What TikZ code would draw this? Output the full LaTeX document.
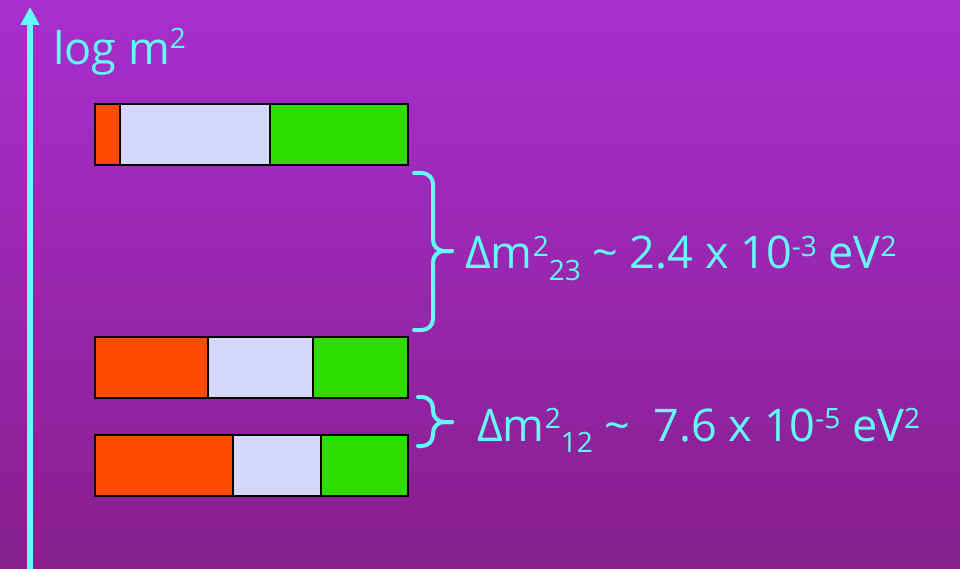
\documentclass[tikz,border=0pt]{standalone}
\usepackage{fontspec}
\setmainfont{Open Sans}
\usetikzlibrary{arrows.meta}
\definecolor{bgtop}{RGB}{169,46,207}
\definecolor{bgbot}{RGB}{135,31,141}
\definecolor{cyantext}{RGB}{100,250,250}
\definecolor{barorange}{RGB}{255,74,0}
\definecolor{barlav}{RGB}{213,216,252}
\definecolor{bargreen}{RGB}{46,221,0}
\newcommand\mysup[2]{\raisebox{#2}{\fontsize{28}{28}\selectfont #1}}
\newcommand\mysub[2]{\raisebox{-#2}{\fontsize{28}{28}\selectfont #1}}
\begin{document}
\begin{tikzpicture}[x=1pt,y=-1pt,
  seg/.style={draw=black, line width=2.5pt, minimum height=61pt, inner sep=0pt, outer sep=0pt, anchor=north west},
  lab/.style={text=cyantext, inner sep=0pt, anchor=base west, font=\fontsize{45}{45}\selectfont},
  bracestyle/.style={draw=cyantext, line width=4pt, rounded corners=11pt, line cap=round}]
\shade[top color=bgtop, bottom color=bgbot] (0,0) rectangle (960,569);
\useasboundingbox (0,0) rectangle (960,569);
% axis
\coordinate (axb) at (30,569);
\coordinate (axt) at (30,7);
\draw[draw=cyantext, line width=6pt, -{Triangle[width=18pt,length=18pt]}, color=cyantext] (axb) -- (axt);
\node[lab, font=\fontsize{45}{45}\selectfont] (logm) at (53,65) {log m\mysup{2}{16pt}};
% top bar
\node[seg, fill=barorange, minimum width=25pt]  (a1) at (95,104) {};
\node[seg, fill=barlav,    minimum width=150pt] (a2) at (120,104) {};
\node[seg, fill=bargreen,  minimum width=138pt] (a3) at (270,104) {};
% middle bar
\node[seg, fill=barorange, minimum width=113pt] (b1) at (95,337) {};
\node[seg, fill=barlav,    minimum width=105pt] (b2) at (208,337) {};
\node[seg, fill=bargreen,  minimum width=95pt]  (b3) at (313,337) {};
% bottom bar
\node[seg, fill=barorange, minimum width=138pt] (c1) at (95,435) {};
\node[seg, fill=barlav,    minimum width=88pt]  (c2) at (233,435) {};
\node[seg, fill=bargreen,  minimum width=87pt]  (c3) at (321,435) {};
% braces
\draw[bracestyle] (414,173) -- (433,173) -- (433,251) -- (452,251);
\draw[bracestyle] (452,251) -- (433,251) -- (433,330) -- (414,330);
\draw[bracestyle] (418,397) -- (433,397) -- (433,422) -- (452,422);
\draw[bracestyle] (452,422) -- (433,422) -- (433,446) -- (418,446);
% labels
\node[lab] (d23) at (465,269) {Δm\mysup{2}{13pt}\mysub{23}{11pt} \textasciitilde{} 2.4 x 10\mysup{-3}{13pt} eV\mysup{2}{13pt}};
\node[lab] (d12) at (477,441) {Δm\mysup{2}{13pt}\mysub{12}{11pt} \textasciitilde{}\ \ 7.6 x 10\mysup{-5}{13pt} eV\mysup{2}{13pt}};
\end{tikzpicture}
\end{document}
